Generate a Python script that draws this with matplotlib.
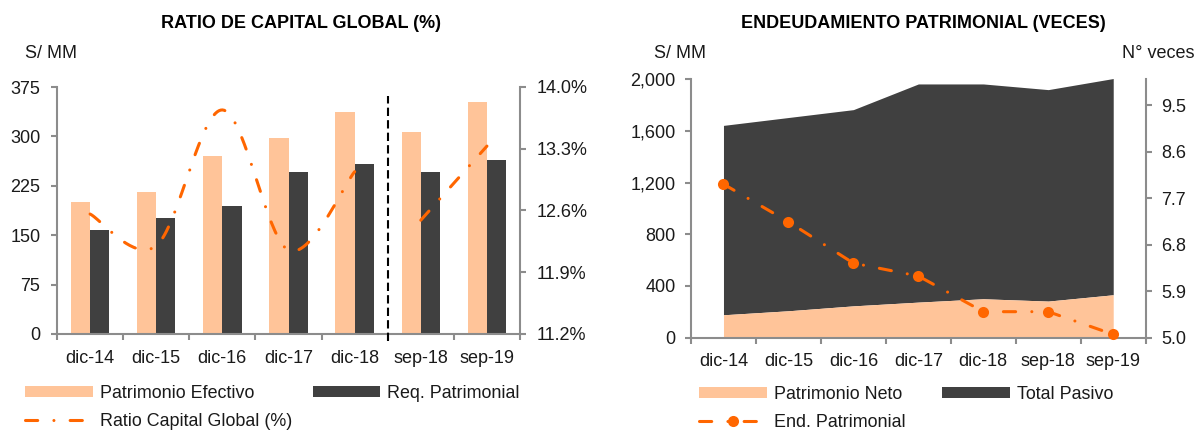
import numpy as np
import matplotlib
matplotlib.use("Agg")
import matplotlib.pyplot as plt
from matplotlib.lines import Line2D
from matplotlib.patches import Patch

plt.rcParams['font.family'] = ['Liberation Sans', 'DejaVu Sans']

# ---------------- data ----------------
categories = ["dic-14", "dic-15", "dic-16", "dic-17", "dic-18", "sep-18", "sep-19"]

# Ratio de capital global (S/ MM and %)
patrimonio_efectivo = [200, 215, 270, 298, 337, 307, 352]
req_patrimonial = [158, 176, 195, 246, 258, 246, 264]
ratio_capital_dic = [12.56, 12.20, 13.74, 12.15, 13.04]   # dic-14 .. dic-18
ratio_capital_sep = [12.49, 13.33]                         # sep-18, sep-19

# Endeudamiento patrimonial (S/ MM and veces)
patrimonio_neto = [176, 207, 245, 274, 300, 282, 331]
total_pasivo = [1467, 1497, 1520, 1690, 1664, 1638, 1675]  # stacked over patrimonio neto
end_patrimonial = [7.97, 7.24, 6.44, 6.19, 5.50, 5.50, 5.06]

left_ticks = [0, 75, 150, 225, 300, 375]
ratio_ticks = [11.2, 11.9, 12.6, 13.3, 14.0]
right_ticks = [0, 400, 800, 1200, 1600, 2000]
veces_ticks = [5.0, 5.9, 6.8, 7.7, 8.6, 9.5]

# ---------------- style ----------------
PEACH = '#FFC499'
DARK = '#404040'
ORANGE = '#FF6600'
AXIS = '#8C8C8C'
TXT = '#1a1a1a'
FS = 13
LEG_FS = 12.9
DASHDOT = (0, (4, 5.3, 0.01, 5.3))

W, H, DPI = 1197, 430, 100


def smooth(xs, ys, n=40):
    """Catmull-Rom curve through the given points (Excel-like smoothed line)."""
    pts = np.column_stack([xs, ys]).astype(float)
    if len(pts) < 3:
        return pts[:, 0], pts[:, 1]
    P = np.vstack([pts[0], pts, pts[-1]])
    t = np.linspace(0, 1, n)[:, None]
    out = []
    for i in range(1, len(P) - 2):
        p0, p1, p2, p3 = P[i - 1], P[i], P[i + 1], P[i + 2]
        seg = 0.5 * (2 * p1 + (-p0 + p2) * t
                     + (2 * p0 - 5 * p1 + 4 * p2 - p3) * t ** 2
                     + (-p0 + 3 * p1 - 3 * p2 + p3) * t ** 3)
        out.append(seg if i == 1 else seg[1:])
    c = np.vstack(out)
    return c[:, 0], c[:, 1]


def style_axes(ax):
    ax.spines['top'].set_visible(False)
    for s in ('left', 'bottom', 'right'):
        ax.spines[s].set_color(AXIS)
        ax.spines[s].set_linewidth(1.5)
    ax.tick_params(axis='both', which='major', color=AXIS, width=1.5, length=4,
                   direction='out', labelsize=FS, labelcolor=TXT)


fig = plt.figure(figsize=(W / DPI, H / DPI), dpi=DPI)
x = np.arange(len(categories))

# ================= left chart =================
ax1 = fig.add_axes([57 / W, 1 - 334 / H, 463 / W, 247 / H])
ax1.bar(x - 0.145, patrimonio_efectivo, 0.29, color=PEACH, zorder=2)
ax1.bar(x + 0.145, req_patrimonial, 0.29, color=DARK, zorder=2)
ax1.set_xlim(-0.5, len(categories) - 0.5)
ax1.set_ylim(0, 375)
style_axes(ax1)
ax1.spines['right'].set_visible(False)
ax1.set_yticks(left_ticks)
ax1.tick_params(axis='y', pad=8)
ax1.set_xticks(np.arange(-0.5, len(categories), 1.0))
ax1.set_xticklabels([])
ax1.set_xticks(x, minor=True)
ax1.set_xticklabels(categories, minor=True)
ax1.tick_params(axis='x', which='minor', length=0, pad=11.5, labelsize=FS, labelcolor=TXT)
ax1.axvline(4.5, ymin=-0.03, ymax=0.964, color='black', lw=1.5,
            ls=(0, (4, 2)), clip_on=False, zorder=3)

ax1r = ax1.twinx()
ax1r.set_ylim(11.2, 14.0)
style_axes(ax1r)
ax1r.spines['left'].set_visible(False)
ax1r.spines['bottom'].set_visible(False)
ax1r.set_yticks(ratio_ticks)
ax1r.set_yticklabels([f"{v:.1f}%" for v in ratio_ticks])
ax1r.tick_params(axis='y', pad=8)
sx, sy = smooth(x[:5], ratio_capital_dic)
ax1r.plot(sx, sy, color=ORANGE, lw=2.2, ls=DASHDOT, dash_capstyle='round')
sx, sy = smooth(x[5:], ratio_capital_sep)
ax1r.plot(sx, sy, color=ORANGE, lw=2.2, ls=DASHDOT, dash_capstyle='round')

fig.text(301 / W, 1 - 23 / H, "RATIO DE CAPITAL GLOBAL (%)", ha='center', va='center',
         fontsize=13, fontweight='bold', color='black')
fig.text(25 / W, 1 - 54 / H, "S/ MM", ha='left', va='center', fontsize=FS, color=TXT)

h_pe = Patch(facecolor=PEACH, edgecolor='none')
h_req = Patch(facecolor=DARK, edgecolor='none')
h_ratio = Line2D([], [], color=ORANGE, lw=2.2, ls=DASHDOT, dash_capstyle='round')
fig.legend([h_pe, h_ratio, h_req],
           ["Patrimonio Efectivo", "Ratio Capital Global (%)", "Req. Patrimonial"],
           ncol=2, loc='upper left', bbox_to_anchor=(25 / W, 1 - 385 / H),
           frameon=False, fontsize=LEG_FS, handlelength=3.77, handleheight=0.55,
           handletextpad=0.4, columnspacing=1.15, labelspacing=0.62,
           borderpad=0, borderaxespad=0, labelcolor=TXT)

# ================= right chart =================
ax2 = fig.add_axes([691 / W, 1 - 337.5 / H, 454.7 / W, 258.2 / H])
neto = np.array(patrimonio_neto, float)
pasivo_top = neto + np.array(total_pasivo, float)
ax2.fill_between(x, neto, pasivo_top, color=DARK, lw=0, zorder=2, clip_on=False)
ax2.fill_between(x, 0, neto, color=PEACH, lw=0, zorder=2)
ax2.set_xlim(-0.5, len(categories) - 0.5)
ax2.set_ylim(0, 2000)
style_axes(ax2)
ax2.spines['right'].set_visible(False)
ax2.set_yticks(right_ticks)
ax2.set_yticklabels([f"{v:,}" for v in right_ticks])
ax2.tick_params(axis='y', pad=7)
ax2.set_xticks(np.arange(-0.5, len(categories), 1.0))
ax2.set_xticklabels([])
ax2.set_xticks(x, minor=True)
ax2.set_xticklabels(categories, minor=True)
ax2.tick_params(axis='x', which='minor', length=0, pad=11, labelsize=FS, labelcolor=TXT)

ax2r = ax2.twinx()
ax2r.set_ylim(5.0, 10.0)
style_axes(ax2r)
ax2r.spines['left'].set_visible(False)
ax2r.spines['bottom'].set_visible(False)
ax2r.set_yticks(veces_ticks)
ax2r.set_yticklabels([f"{v:.1f}" for v in veces_ticks])
ax2r.tick_params(axis='y', pad=7)
ax2r.plot(x, end_patrimonial, color=ORANGE, lw=2.2, ls=DASHDOT, dash_capstyle='round',
          marker='o', ms=8, mec='none', clip_on=False)

fig.text(923 / W, 1 - 23 / H, "ENDEUDAMIENTO PATRIMONIAL (VECES)", ha='center', va='center',
         fontsize=13, fontweight='bold', color='black')
fig.text(654 / W, 1 - 53 / H, "S/ MM", ha='left', va='center', fontsize=FS, color=TXT)
fig.text(1122 / W, 1 - 53 / H, "N° veces", ha='left', va='center', fontsize=FS, color=TXT)

h_pn = Patch(facecolor=PEACH, edgecolor='none')
h_tp = Patch(facecolor=DARK, edgecolor='none')
h_end = Line2D([], [], color=ORANGE, lw=2.2, ls=DASHDOT, dash_capstyle='round',
               marker='o', ms=8, mec='none')
fig.legend([h_pn, h_end, h_tp],
           ["Patrimonio Neto", "End. Patrimonial", "Total Pasivo"],
           ncol=2, loc='upper left', bbox_to_anchor=(699 / W, 1 - 386 / H),
           frameon=False, fontsize=LEG_FS, handlelength=3.77, handleheight=0.55,
           handletextpad=0.4, columnspacing=2.05, labelspacing=0.62,
           borderpad=0, borderaxespad=0, labelcolor=TXT, numpoints=1)

fig.savefig("out.png", dpi=DPI)
